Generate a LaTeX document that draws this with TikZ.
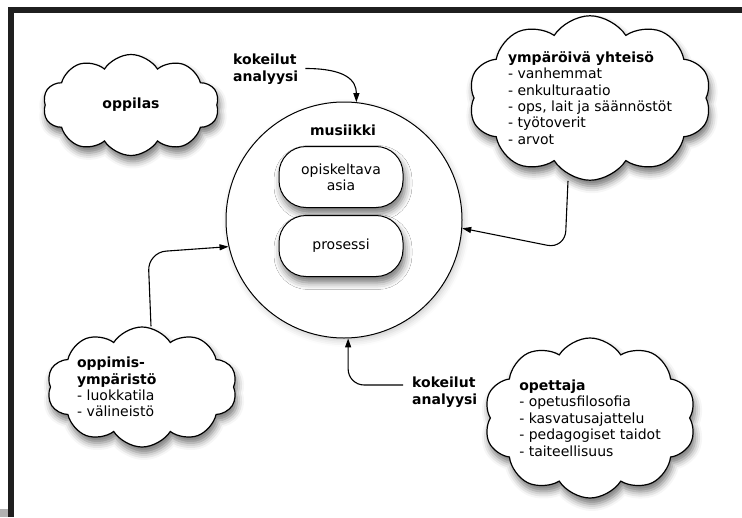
\documentclass[tikz,border=0pt]{standalone}
\usepackage{fontspec}
\setmainfont{DejaVu Sans}
\usetikzlibrary{positioning,calc,backgrounds}
\usetikzlibrary{shapes.symbols,shadows.blur,arrows.meta}

\begin{document}
\begin{tikzpicture}[x=1pt,y=-1pt,
  font=\fontsize{14}{16.4}\selectfont,
  softshadow/.style={blur shadow={shadow xshift=2pt, shadow yshift=-6pt, shadow blur radius=7pt, shadow opacity=55}},
  cloudbox/.style={cloud, cloud puffs=10, cloud puff arc=115, cloud ignores aspect,
    draw, line width=1.2pt, fill=white, inner sep=0pt, align=left, softshadow},
  asiabox/.style={draw, rounded corners=27pt, fill=white, line width=1pt,
    minimum width=124pt, minimum height=61pt, align=center, softshadow},
  conn/.style={line width=1.1pt, -{Triangle[length=9pt,width=6pt]}},
  klabel/.style={font=\fontsize{14}{17}\selectfont\bfseries, align=left, inner sep=0pt, anchor=west}
]
  \useasboundingbox (0,0) rectangle (742,517);

  % Frame
  \fill[black!88] (8,7) rectangle (742,12.5);
  \fill[black!88] (8,7) rectangle (13.5,517);
  \fill[black!30] (0,509) rectangle (8,517);

  % Music circle and its two boxes
  \node[circle, draw, line width=1pt, minimum size=236pt, fill=white,
    blur shadow={shadow xshift=2pt, shadow yshift=-3pt, shadow blur radius=6pt, shadow opacity=20}] (musiikki) at (344,220) {};
  \node[font=\fontsize{14}{17}\selectfont\bfseries] (otsikko) at (343,130) {musiikki};
  \node[asiabox] (asia) at (341,177) {opiskeltava\\asia};
  \node[asiabox] (prosessi) at (341,246) {prosessi};

  % Clouds
  \node[cloudbox, minimum width=176pt, minimum height=101pt] (oppilas) at (131,105) {\textbf{oppilas}};
  \node[cloudbox, minimum width=241pt, minimum height=150pt] (yhteiso) at (590,98)
    {\textbf{ympäröivä yhteisö}\\- vanhemmat\\- enkulturaatio\\- ops, lait ja säännöstöt\\- työtoverit\\- arvot};
  \node[cloudbox, minimum width=190pt, minimum height=120pt, text width=130pt] (ymparisto) at (142,387)
    {\textbf{oppimis-}\\\textbf{ympäristö}\\- luokkatila\\- välineistö};
  \node[cloudbox, minimum width=212pt, minimum height=160pt] (opettaja) at (590,418)
    {\textbf{opettaja}\\- opetusfilosofia\\- kasvatusajattelu\\- pedagogiset taidot\\- taiteellisuus};

  % Labels
  \node[klabel] (koe1) at (233,69.5) {kokeilut\\analyysi};
  \node[klabel] (koe2) at (412,392) {kokeilut\\analyysi};

  % Connectors (behind the clouds)
  \begin{pgfonlayer}{background}
    \draw[conn] ([xshift=7pt,yshift=1pt]koe1.east) .. controls +(40,0) and +(0,-22) .. (musiikki.84);
    \draw[conn, rounded corners=18pt] ([xshift=-22pt]yhteiso.south) -- ++(-3,68) -- (musiikki.-4);
    \draw[conn, rounded corners=18pt] ([xshift=9pt]ymparisto.north) -- ++(-3,-74) -- (musiikki.193);
    \draw[conn, rounded corners=16pt] ([xshift=-9pt,yshift=7pt]koe2.west) -| (musiikki.-88);
  \end{pgfonlayer}
\end{tikzpicture}
\end{document}
